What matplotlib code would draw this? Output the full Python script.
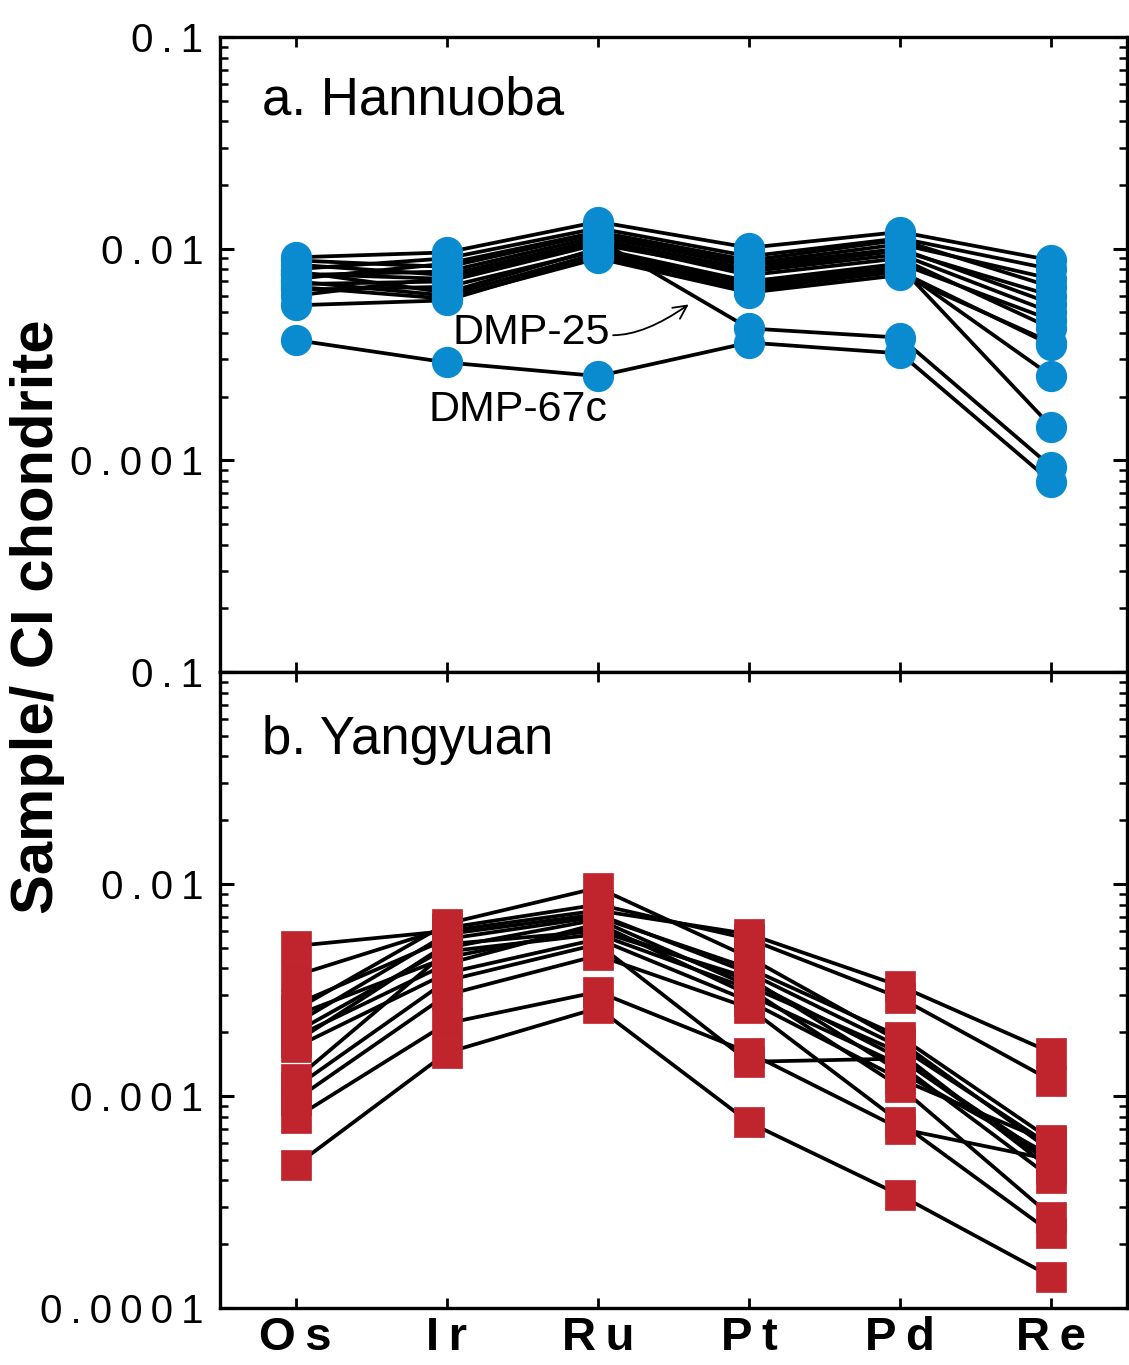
#!/usr/bin/env python3

"""
Chondrite-normalised HSE patterns for Hannuoba and Yangyuan peridotites.
"""

import numpy as np
import matplotlib.pyplot as plt
from matplotlib.ticker import LogLocator, FixedLocator, FuncFormatter, NullFormatter

plt.rcParams["font.family"] = ["Liberation Sans", "DejaVu Sans"]

ELEMENTS = ["Os", "Ir", "Ru", "Pt", "Pd", "Re"]

# Hannuoba: main group (rows = samples, columns follow ELEMENTS)
HAN_OS = [0.0091, 0.0088, 0.0084, 0.0080, 0.0078, 0.0075, 0.0072, 0.0070, 0.0068, 0.0066, 0.0064, 0.0060, 0.0054]
HAN_IR = [0.0096, 0.0082, 0.0075, 0.0090, 0.0062, 0.0078, 0.0085, 0.0060, 0.0070, 0.0058, 0.0066, 0.0073, 0.0057]
HAN_RU = [0.0134, 0.0118, 0.0110, 0.0125, 0.0100, 0.0114, 0.0120, 0.0095, 0.0105, 0.0090, 0.0098, 0.0108, 0.0093]
HAN_PT = [0.0101, 0.0085, 0.0080, 0.0092, 0.0070, 0.0083, 0.0088, 0.0066, 0.0078, 0.0062, 0.0068, 0.0075, 0.0064]
HAN_PD = [0.0120, 0.0105, 0.0098, 0.0112, 0.0085, 0.0100, 0.0110, 0.0080, 0.0094, 0.0075, 0.0082, 0.0090, 0.0078]
HAN_RE = [0.0088, 0.0072, 0.0060, 0.0080, 0.0046, 0.0055, 0.0066, 0.0025, 0.0050, 0.0036, 0.00144, 0.0042, 0.0035]

DMP_25 = [0.0076, 0.0072, 0.0110, 0.0042, 0.0038, 0.00093]
DMP_67C = [0.0037, 0.0029, 0.0025, 0.0036, 0.0032, 0.00079]

# Yangyuan
YAN_OS = [0.0051, 0.0037, 0.0027, 0.00255, 0.0024, 0.0022, 0.0020, 0.0019, 0.0018, 0.0017, 0.0012, 0.0011, 0.00096, 0.00079, 0.00047]
YAN_IR = [0.0060, 0.0062, 0.0055, 0.0065, 0.0045, 0.0058, 0.0050, 0.0042, 0.0052, 0.0038, 0.0048, 0.0035, 0.0030, 0.0022, 0.0016]
YAN_RU = [0.0075, 0.0080, 0.0070, 0.0096, 0.0062, 0.0072, 0.0068, 0.0065, 0.0060, 0.0055, 0.0058, 0.0052, 0.0046, 0.0031, 0.0026]
YAN_PT = [0.0058, 0.0055, 0.0040, 0.0045, 0.0035, 0.0038, 0.0033, 0.0030, 0.0036, 0.0028, 0.0032, 0.00145, 0.0026, 0.0016, 0.00075]
YAN_PD = [0.0033, 0.0029, 0.0019, 0.0018, 0.0015, 0.0017, 0.0016, 0.0014, 0.0013, 0.0012, 0.0011, 0.0015, 0.00075, 0.0007, 0.00034]
YAN_RE = [0.0016, 0.00118, 0.00062, 0.00055, 0.00050, 0.00058, 0.00045, 0.00041, 0.00052, 0.00060, 0.00027, 0.00048, 0.000226, 0.00050, 0.00014]

BLUE = "#0A8BD0"
RED = "#C0252D"
THIN = "\u2009"


def spaced(s):
    return THIN.join(s)


def tick_label(v, pos):
    if v >= 0.1:
        return spaced("0.1")
    return spaced(f"{v:.{int(round(-np.log10(v)))}f}")


def style_axis(ax, hide_bottom_label=False):
    ax.set_yscale("log")
    ax.set_ylim(1e-4, 1e-1)
    ax.set_xlim(-0.5, 5.5)
    for sp in ax.spines.values():
        sp.set_linewidth(2.4)
    ax.yaxis.set_major_locator(FixedLocator([1e-4, 1e-3, 1e-2, 1e-1]))
    ax.yaxis.set_minor_locator(LogLocator(base=10, subs=np.arange(2, 10)))
    ax.yaxis.set_minor_formatter(NullFormatter())
    if hide_bottom_label:
        ax.yaxis.set_major_formatter(FuncFormatter(lambda v, p: "" if v < 5e-4 else tick_label(v, p)))
    else:
        ax.yaxis.set_major_formatter(FuncFormatter(tick_label))
    ax.tick_params(axis="y", which="major", direction="in", length=10, width=2.2,
                   left=True, right=True, labelsize=29, pad=12)
    ax.tick_params(axis="y", which="minor", direction="in", length=6, width=1.8,
                   left=True, right=True)
    ax.set_xticks(range(len(ELEMENTS)))
    ax.tick_params(axis="x", which="major", direction="in", length=7, width=2.0,
                   top=True, bottom=True)


fig = plt.figure(figsize=(11.29, 13.65), dpi=100)
ax1 = fig.add_axes([0.1949, 0.5077, 0.8034, 0.4652])
ax2 = fig.add_axes([0.1949, 0.0418, 0.8034, 0.4659])

x = np.arange(len(ELEMENTS))

# Hannuoba
han = np.array([HAN_OS, HAN_IR, HAN_RU, HAN_PT, HAN_PD, HAN_RE]).T
for row in list(han) + [DMP_25, DMP_67C]:
    ax1.plot(x, row, color="black", lw=2.7, zorder=2)
for row in list(han) + [DMP_25, DMP_67C]:
    ax1.plot(x, row, ls="none", marker="o", ms=21.5, color=BLUE,
             markeredgecolor=BLUE, zorder=3)

style_axis(ax1, hide_bottom_label=True)
ax1.set_xticklabels([])
ax1.text(0.046, 0.90, "a. Hannuoba", transform=ax1.transAxes, fontsize=38,
         ha="left", va="center")
ax1.text(2.08, 0.0040, "DMP-25", fontsize=31, ha="right", va="center")
ax1.text(2.06, 0.00173, "DMP-67c", fontsize=31, ha="right", va="center")
ax1.annotate("", xy=(2.6, 0.00545), xytext=(2.1, 0.0039),
             arrowprops=dict(arrowstyle="->", lw=1.3, color="black",
                             connectionstyle="angle3,angleA=0,angleB=35",
                             mutation_scale=24, shrinkA=0, shrinkB=0),
             zorder=4)

# Yangyuan
yan = np.array([YAN_OS, YAN_IR, YAN_RU, YAN_PT, YAN_PD, YAN_RE]).T
for row in yan:
    ax2.plot(x, row, color="black", lw=2.7, zorder=2)
for row in yan:
    ax2.plot(x, row, ls="none", marker="s", ms=21.5, color=RED,
             markeredgecolor=RED, markeredgewidth=0.5, zorder=3)

style_axis(ax2)
ax2.set_xticklabels([spaced(e) for e in ELEMENTS], fontsize=34, fontweight="bold")
ax2.tick_params(axis="x", pad=6)
ax2.text(0.046, 0.893, "b. Yangyuan", transform=ax2.transAxes, fontsize=38,
         ha="left", va="center")

fig.text(0.033, 0.548, "Sample/ CI chondrite", rotation=90, fontsize=43,
         fontweight="bold", ha="center", va="center")

fig.savefig("out.png", dpi=100)
